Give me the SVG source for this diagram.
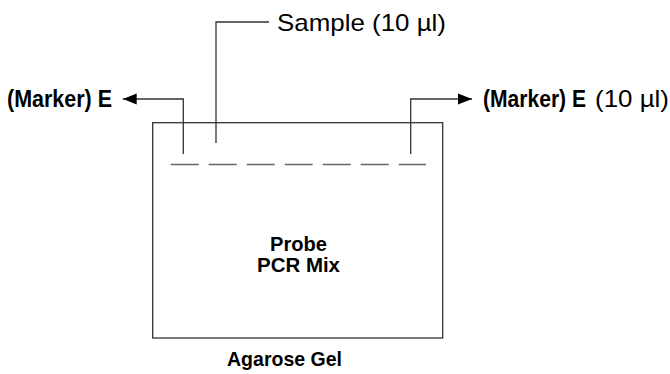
<svg xmlns="http://www.w3.org/2000/svg" width="670" height="374" viewBox="0 0 670 374">
  <defs>
    <style>
      .ln { fill: none; stroke: #333; stroke-width: 1.3; }
      .gel { fill: #fff; stroke: #333; stroke-width: 1.3; }
      .well { fill: none; stroke: #666; stroke-width: 1.6; stroke-dasharray: 28 10; }
      .b { font-family: "Liberation Sans", Arial, sans-serif; font-weight: bold; fill: #000; }
      .n { font-family: "Liberation Sans", Arial, sans-serif; font-weight: normal; fill: #000; }
    </style>
    <marker id="arr" markerUnits="userSpaceOnUse" markerWidth="14" markerHeight="12" viewBox="0 0 14 12" refX="14" refY="6" orient="auto">
      <polygon points="0,0.5 14,6 0,11.5" fill="#000"/>
    </marker>
  </defs>

  <g id="gel">
    <rect class="gel" x="152.7" y="122.7" width="290" height="215.3"/>
    <line class="well" x1="170.7" y1="164.5" x2="426" y2="164.5"/>
    <text class="b" x="298.5" y="251" font-size="20" text-anchor="middle" textLength="57" lengthAdjust="spacingAndGlyphs">Probe</text>
    <text class="b" x="298.5" y="272" font-size="20" text-anchor="middle" textLength="83" lengthAdjust="spacingAndGlyphs">PCR Mix</text>
  </g>

  <g id="gel-label">
    <text class="b" x="284.5" y="365.5" font-size="21" text-anchor="middle" textLength="115" lengthAdjust="spacingAndGlyphs">Agarose Gel</text>
  </g>

  <g id="sample-label">
    <text class="n" x="277" y="31" font-size="24" textLength="169" lengthAdjust="spacingAndGlyphs">Sample (10 µl)</text>
  </g>

  <g id="marker-left">
    <text class="b" x="7" y="106.5" font-size="23" textLength="105" lengthAdjust="spacingAndGlyphs">(Marker) E</text>
  </g>

  <g id="marker-right">
    <text class="b" x="483" y="106.5" font-size="23" textLength="103" lengthAdjust="spacingAndGlyphs">(Marker) E</text>
    <text class="n" x="595" y="107" font-size="24" textLength="74" lengthAdjust="spacingAndGlyphs">(10 µl)</text>
  </g>

  <g id="connectors">
    <path class="ln" d="M216,143 V22 H269"/>
    <path class="ln" d="M183.3,154 V99 H122.7" marker-end="url(#arr)"/>
    <path class="ln" d="M410.7,154 V99 H472" marker-end="url(#arr)"/>
  </g>
</svg>
